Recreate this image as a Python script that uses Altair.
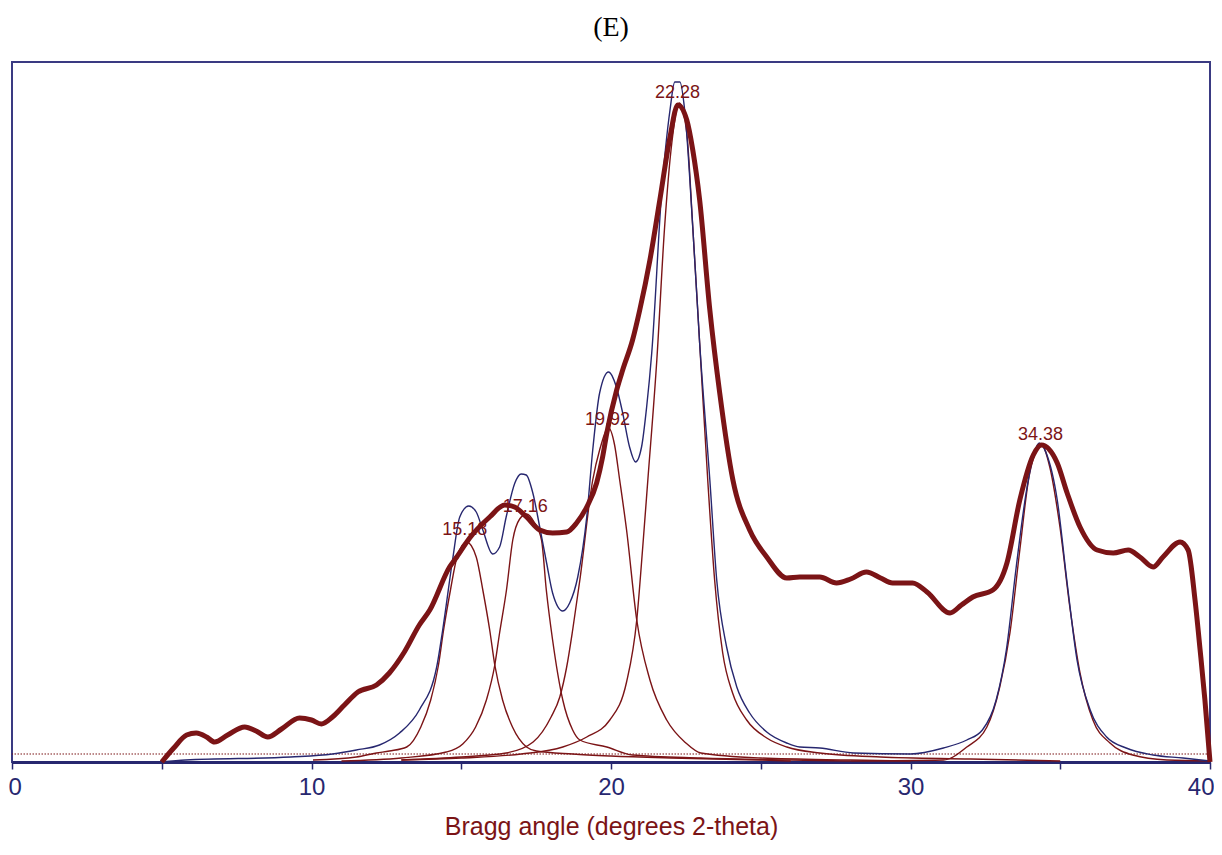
import altair as alt
import pandas as pd

# ---- observed pattern (thick dark red) ----
obs_x = [5.0, 5.4, 5.83, 6.15, 6.5, 6.76, 7.2, 7.77, 8.15, 8.54, 9.0, 9.6, 10.0, 10.33, 10.7,
         11.1, 11.55, 12.17, 12.6, 13.1, 13.6, 13.95, 14.61, 14.85, 15.28, 15.95, 16.45, 16.78,
         17.18, 17.62, 18.05, 18.52, 18.85, 19.19, 19.52, 19.72, 19.86, 20.19, 20.39, 20.72,
         20.96, 21.3, 21.63, 21.97, 22.23, 22.53, 22.73, 22.96, 23.3, 23.63, 24.07, 24.63, 25.2,
         25.87, 26.3, 26.97, 27.53, 28.0, 28.53, 29.0, 29.4, 30.07, 30.55, 31.32, 31.7, 32.08,
         32.75, 33.22, 33.65, 34.1, 34.37, 34.9, 35.23, 35.66, 36.23, 36.77, 37.27, 37.66, 38.1,
         38.43, 39.0, 39.27, 39.5, 39.67, 39.83, 40.0]
obs_y = [0, 14, 27, 29, 25, 20, 27, 35, 31, 25, 33, 44, 42, 38, 45,
         57, 70, 77, 89, 110, 137, 152, 195, 205, 224, 245, 257, 255,
         245, 232, 229, 230, 239, 255, 279, 305, 329, 372, 392, 422,
         452, 502, 562, 625, 657, 642, 612, 562, 452, 369, 282, 232, 205,
         184, 185, 185, 179, 183, 190, 184, 179, 179, 170, 149, 157, 165,
         172, 199, 262, 307, 317, 299, 269, 235, 212, 209, 212, 205, 195,
         205, 220, 212, 162, 112, 62, 0]

# ---- fitted sum (thin navy) ----
fit_x = [5.0, 5.8, 9.3, 10.7, 11.5, 12.27, 12.94, 13.6, 14.18, 14.38, 14.71, 14.95, 15.25,
         15.5, 15.72, 16.05, 16.28, 16.5, 16.79, 17.0, 17.17, 17.39, 17.62, 17.85, 18.05, 18.39,
         18.62, 18.89, 19.19, 19.39, 19.62, 19.92, 20.18, 20.39, 20.62, 20.82, 21.02, 21.19,
         21.36, 21.69, 21.97, 22.13, 22.3, 22.46, 22.73, 22.96, 23.3, 23.53, 23.86, 24.2, 24.63,
         25.2, 25.87, 26.3, 26.97, 28.1, 30.0, 31.1, 31.88, 32.4, 32.86, 33.2, 33.53, 33.86,
         34.13, 34.3, 34.53, 34.9, 35.23, 35.56, 36.0, 36.55, 37.2, 38.1, 39.1, 40.0]
fit_y = [0, 2, 5, 8, 12, 17, 29, 52, 95, 132, 202, 245, 256,
         250, 232, 208, 215, 245, 279, 288, 287, 269, 235, 199, 169, 151,
         159, 185, 245, 312, 369, 390, 375, 349, 315, 300, 315, 355,
         409, 569, 652, 680, 680, 652, 535, 419, 282, 182, 115, 75, 49,
         30, 19, 15, 14, 9, 8, 14, 22, 32, 62, 112, 195, 269,
         309, 319, 309, 262, 179, 102, 52, 25, 14, 7, 4, 1]

# ---- component peaks (thin dark red) ----
p1_x = [10.05, 11.5, 12.17, 12.6, 13.18, 13.65, 13.98, 14.24, 14.41, 14.64, 14.86, 15.18,
        15.5, 15.72, 15.95, 16.12, 16.38, 16.71, 17.18, 17.51, 18.72, 20.0, 22.0, 25.0, 26.0]
p1_y = [2, 5, 9, 11, 15, 35, 62, 97, 132, 172, 205, 220,
        205, 172, 132, 97, 62, 35, 15, 11, 8, 6, 4, 2, 1]
p2_x = [11.0, 13.0, 14.5, 15.05, 15.48, 15.84, 16.12, 16.28, 16.51, 16.72, 16.95, 17.18,
        17.43, 17.68, 17.84, 18.05, 18.39, 18.72, 18.96, 19.86, 20.72, 23.0, 26.0, 28.0]
p2_y = [1, 4, 10, 18, 35, 62, 97, 129, 172, 222, 243, 248,
        240, 222, 172, 122, 62, 32, 22, 15, 7, 4, 2, 1]
p3_x = [13.0, 15.0, 16.5, 17.4, 18.0, 18.29, 18.52, 18.72, 18.96, 19.39, 19.62, 19.92, 20.12,
        20.29, 20.52, 20.86, 21.3, 21.86, 22.5, 23.0, 25.0, 28.0, 30.0]
p3_y = [2, 5, 9, 20, 45, 65, 95, 132, 182, 282, 312, 334, 317,
        282, 232, 142, 82, 42, 19, 9, 4, 2, 1]
p4_x = [13.0, 15.0, 17.0, 18.39, 19.19, 19.96, 20.52, 20.86, 21.06, 21.23, 21.53, 21.79,
        22.03, 22.28, 22.53, 22.73, 22.96, 23.23, 23.46, 23.73, 24.06, 24.53, 25.2, 25.87,
        26.97, 29.0, 32.0, 35.0]
p4_y = [2, 4, 8, 15, 25, 42, 80, 142, 215, 282, 402, 535,
        619, 659, 629, 535, 419, 282, 182, 109, 69, 42, 24, 15,
        9, 5, 3, 1]
p5_x = [28.0, 31.1, 31.88, 32.55, 32.98, 33.32, 33.65, 33.98, 34.38, 34.65, 34.99, 35.32,
        35.66, 36.09, 36.66, 37.42, 38.56, 40.0]
p5_y = [1, 2, 15, 35, 75, 129, 212, 289, 317, 295, 235, 155,
        89, 42, 19, 7, 2, 1]

# ---- peak labels ----
label_text = ["15.18", "17.16", "19.92", "22.28", "34.38"]
label_x = [15.12, 17.14, 19.88, 22.22, 34.34]
label_y = [227, 250, 337, 664, 322]

baseline_level = [8]
x_ticks = [0, 5, 10, 15, 20, 25, 30, 35, 40]

RED = "#7b1416"
NAVY = "#27276f"
SANS = "Liberation Sans, Arial, sans-serif"

obs = pd.DataFrame({"x": obs_x, "y": obs_y})
fit = pd.DataFrame({"x": fit_x, "y": fit_y})
comps = pd.concat([
    pd.DataFrame({"x": xs, "y": ys, "peak": name})
    for name, xs, ys in [("p1", p1_x, p1_y), ("p2", p2_x, p2_y), ("p3", p3_x, p3_y),
                         ("p4", p4_x, p4_y), ("p5", p5_x, p5_y)]
], ignore_index=True)
labels = pd.DataFrame({"x": label_x, "y": label_y, "t": label_text})
base = pd.DataFrame({"y": baseline_level})

xscale = alt.Scale(domain=[0, 40], nice=False)
yscale = alt.Scale(domain=[0, 700], nice=False)

xaxis = alt.Axis(values=x_ticks, labelExpr="datum.value % 10 == 0 ? datum.label : ''",
                 grid=False, tickSize=7, tickColor=NAVY, tickWidth=1.5,
                 domainColor=NAVY, domainWidth=3, labelColor=NAVY, labelFont=SANS,
                 labelFontSize=24, labelPadding=6, labelFlush=True, labelFlushOffset=4,
                 title="Bragg angle (degrees 2-theta)", titleColor=RED, titleFont=SANS,
                 titleFontSize=25, titleFontWeight="normal", titlePadding=15)

X = alt.X("x:Q", scale=xscale, axis=xaxis)
Y = alt.Y("y:Q", scale=yscale, axis=None)

comp_layer = alt.Chart(comps).mark_line(color=RED, strokeWidth=1.4, interpolate="monotone").encode(
    x=X, y=Y, detail="peak:N")
fit_layer = alt.Chart(fit).mark_line(color=NAVY, strokeWidth=1.4, interpolate="monotone").encode(
    x=X, y=Y)
obs_layer = alt.Chart(obs).mark_line(color=RED, strokeWidth=5, interpolate="monotone").encode(
    x=X, y=Y)
base_layer = alt.Chart(base).mark_rule(color=RED, strokeWidth=1.2, strokeDash=[1.5, 1.5]).encode(
    y=alt.Y("y:Q", scale=yscale, axis=None))
text_layer = alt.Chart(labels).mark_text(color=RED, font=SANS, fontSize=18,
                                         align="center", baseline="alphabetic").encode(
    x=X, y=Y, text="t:N")

chart = alt.layer(base_layer, comp_layer, fit_layer, obs_layer, text_layer).properties(
    width=1198, height=700,
    title=alt.TitleParams("(E)", font="Liberation Serif", fontSize=28, fontWeight="normal",
                          color="black", anchor="middle", offset=20),
    autosize=alt.AutoSizeParams(type="none"),
    padding={"left": 4, "top": 54, "right": 4, "bottom": 84},
).configure_view(stroke="#3a3a82", strokeWidth=2)

chart.save("out.html", embed_options={"renderer": "svg", "actions": False})
